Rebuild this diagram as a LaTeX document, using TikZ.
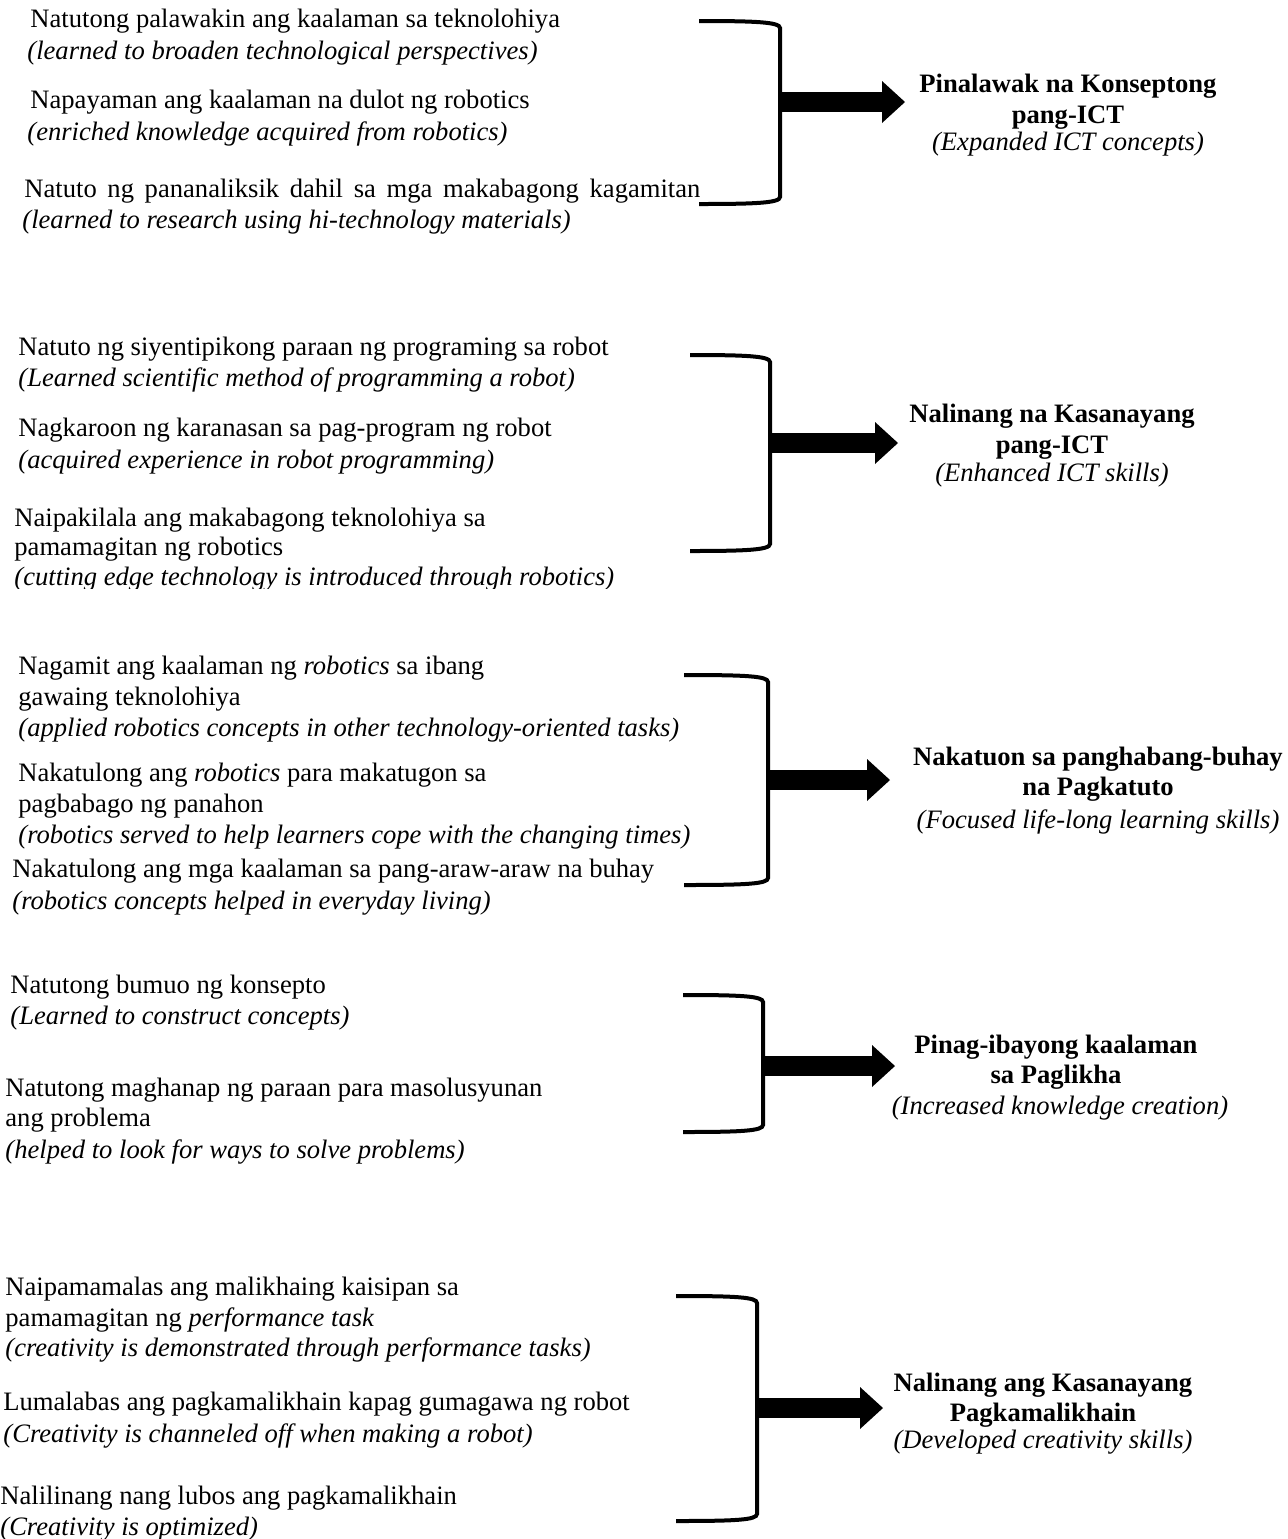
\documentclass[tikz,border=0pt]{standalone}
\usepackage{fontspec}
\setmainfont{Liberation Serif}
\usetikzlibrary{arrows.meta}
\tikzset{
  txt/.style={anchor=base west, inner sep=0pt, font=\fontsize{13.3pt}{16pt}\selectfont},
  itx/.style={txt, font=\fontsize{13.3pt}{16pt}\selectfont\itshape},
  hd/.style={anchor=base, inner sep=0pt, font=\fontsize{13.3pt}{16pt}\selectfont\bfseries},
  hi/.style={anchor=base, inner sep=0pt, font=\fontsize{13.3pt}{16pt}\selectfont\itshape},
  brk/.style={line width=2pt, line cap=butt},
  bigarrow/.style={line width=9.8pt, -{Triangle[length=11.5pt,width=21pt,line width=0pt]}}
}
\begin{document}
\begin{tikzpicture}[x=0.5pt,y=-0.5pt]
\useasboundingbox (0,0) rectangle (1287,1539);
% ---------- Group 1
\node[txt] (g1a) at (30,27) {Natutong palawakin ang kaalaman sa teknolohiya};
\node[itx] (g1b) at (27,59) {(learned to broaden technological perspectives)};
\node[txt] (g1c) at (30,108) {Napayaman ang kaalaman na dulot ng robotics};
\node[itx] (g1d) at (27,140) {(enriched knowledge acquired from robotics)};
\node[txt] (g1e) at (24,197) {\makebox[338pt][s]{Natuto ng pananaliksik dahil sa mga makabagong kagamitan}};
\node[itx] (g1f) at (22,228) {(learned to research using hi-technology materials)};
\draw[brk] (699,21) .. controls (755,21) and (780,22) .. (780,28) -- (780,197) .. controls (780,203) and (755,204) .. (699,204);
\coordinate (k1) at (779,102);
\coordinate (t1) at (905,102);
\draw[bigarrow] (k1) -- (t1);
\node[hd] (l1a) at (1068,92) {Pinalawak na Konseptong};
\node[hd] (l1b) at (1068,123) {pang-ICT};
\node[hi] (l1c) at (1068,150) {(Expanded ICT concepts)};
% ---------- Group 2
\node[txt] (g2a) at (18,355) {Natuto ng siyentipikong paraan ng programing sa robot};
\node[itx] (g2b) at (18,386) {(Learned scientific method of programming a robot)};
\node[txt] (g2c) at (18,436) {Nagkaroon ng karanasan sa pag-program ng robot};
\node[itx] (g2d) at (18,468) {(acquired experience in robot programming)};
\node[txt] (g2e) at (14,526) {Naipakilala ang makabagong teknolohiya sa};
\node[txt] (g2f) at (14,555) {pamamagitan ng robotics};
\begin{scope}
\clip (0,562) rectangle (700,588);
\node[itx] (g2g) at (14,585) {(cutting edge technology is introduced through robotics)};
\end{scope}
\draw[brk] (690,355) .. controls (745,355) and (770,356) .. (770,362) -- (770,544) .. controls (770,550) and (745,551) .. (690,551);
\coordinate (k2) at (769,443);
\coordinate (t2) at (898,443);
\draw[bigarrow] (k2) -- (t2);
\node[hd] (l2a) at (1052,422) {Nalinang na Kasanayang};
\node[hd] (l2b) at (1052,453) {pang-ICT};
\node[hi] (l2c) at (1052,481) {(Enhanced ICT skills)};
% ---------- Group 3
\node[txt] (g3a) at (18,674) {Nagamit ang kaalaman ng \textit{robotics} sa ibang};
\node[txt] (g3b) at (18,705) {gawaing teknolohiya};
\node[itx] (g3c) at (18,736) {(applied robotics concepts in other technology-oriented tasks)};
\node[txt] (g3d) at (18,781) {Nakatulong ang \textit{robotics} para makatugon sa};
\node[txt] (g3e) at (18,812) {pagbabago ng panahon};
\node[itx] (g3f) at (18,843) {(robotics served to help learners cope with the changing times)};
\node[txt] (g3g) at (12,877) {Nakatulong ang mga kaalaman sa pang-araw-araw na buhay};
\node[itx] (g3h) at (12,909) {(robotics concepts helped in everyday living)};
\draw[brk] (684,675) .. controls (745,675) and (768,676) .. (768,682) -- (768,878) .. controls (768,884) and (745,885) .. (684,885);
\coordinate (k3) at (767,780);
\coordinate (t3) at (890,780);
\draw[bigarrow] (k3) -- (t3);
\node[hd] (l3a) at (1098,765) {Nakatuon sa panghabang-buhay};
\node[hd] (l3b) at (1098,795) {na Pagkatuto};
\node[hi] (l3c) at (1098,828) {(Focused life-long learning skills)};
% ---------- Group 4
\node[txt] (g4a) at (10,993) {Natutong bumuo ng konsepto};
\node[itx] (g4b) at (10,1024) {(Learned to construct concepts)};
\node[txt] (g4c) at (5,1096) {Natutong maghanap ng paraan para masolusyunan};
\node[txt] (g4d) at (5,1126) {ang problema};
\node[itx] (g4e) at (5,1158) {(helped to look for ways to solve problems)};
\draw[brk] (683,995) .. controls (740,995) and (763,996) .. (763,1002) -- (763,1125) .. controls (763,1131) and (740,1132) .. (683,1132);
\coordinate (k4) at (762,1066);
\coordinate (t4) at (895,1066);
\draw[bigarrow] (k4) -- (t4);
\node[hd] (l4a) at (1056,1053) {Pinag-ibayong kaalaman};
\node[hd] (l4b) at (1056,1083) {sa Paglikha};
\node[hi] (l4c) at (1060,1114) {(Increased knowledge creation)};
% ---------- Group 5
\node[txt] (g5a) at (5,1295) {Naipamamalas ang malikhaing kaisipan sa};
\node[txt] (g5b) at (5,1326) {pamamagitan ng \textit{performance task}};
\node[itx] (g5c) at (5,1356) {(creativity is demonstrated through performance tasks)};
\node[txt] (g5d) at (3,1410) {Lumalabas ang pagkamalikhain kapag gumagawa ng robot};
\node[itx] (g5e) at (3,1442) {(Creativity is channeled off when making a robot)};
\node[txt] (g5f) at (0,1504) {Nalilinang nang lubos ang pagkamalikhain};
\node[itx] (g5g) at (0,1535) {(Creativity is optimized)};
\draw[brk] (676,1296) .. controls (735,1296) and (757,1297) .. (757,1303) -- (757,1514) .. controls (757,1520) and (735,1521) .. (676,1521);
\coordinate (k5) at (756,1408);
\coordinate (t5) at (883,1408);
\draw[bigarrow] (k5) -- (t5);
\node[hd] (l5a) at (1043,1391) {Nalinang ang Kasanayang};
\node[hd] (l5b) at (1043,1421) {Pagkamalikhain};
\node[hi] (l5c) at (1043,1448) {(Developed creativity skills)};
\end{tikzpicture}
\end{document}
